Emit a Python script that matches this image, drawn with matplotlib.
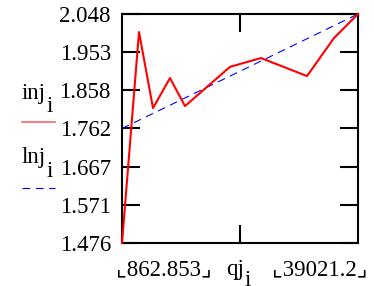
import numpy as np
import matplotlib
matplotlib.use("Agg")
import matplotlib.pyplot as plt

# datos
qj = [862.853, 3612, 5875, 8624, 11049, 18325, 23338, 30775, 35141, 39021.2]
inj = [1.476, 2.003, 1.813, 1.888, 1.818, 1.916, 1.938, 1.893, 1.988, 2.048]
lnj_x = [862.853, 39021.2]
lnj = [1.762, 2.048]
yticks = [1.476, 1.571, 1.667, 1.762, 1.858, 1.953, 2.048]
xlabels = ["\u231e862.853\u231f", "\u231e39021.2\u231f"]

fam = ["Liberation Serif", "DejaVu Sans"]
fs = 16.5

fig = plt.figure(figsize=(3.74, 2.86), dpi=100)
ax = fig.add_axes([122/374, 1-243/286, 236/374, 229/286])

ax.plot(qj, inj, color="red", lw=1.5, clip_on=False, zorder=3)
ax.plot(lnj_x, lnj, color="blue", lw=0.8, dashes=(7, 5), clip_on=False, zorder=2)

ax.set_xlim(qj[0], qj[-1])
ax.set_ylim(yticks[0], yticks[-1])
for s in ax.spines.values():
    s.set_linewidth(1.5)

ax.set_yticks(yticks)
ax.set_yticklabels([f"{v:.3f}" for v in yticks], family=fam, fontsize=fs)
ax.tick_params(axis="y", direction="in", length=13, width=1.5, right=True, pad=8)
ax.set_xticks([(qj[0] + qj[-1]) / 2])
ax.set_xticklabels([""])
ax.tick_params(axis="x", direction="in", length=13, width=1.5, top=True)

# etiquetas del eje x estilo Mathcad
def ftext(x, y, s, **kw):
    fig.text(x/374, 1-y/286, s, family=fam, fontsize=fs, va="baseline", **kw)

ftext(116, 275, xlabels[0], ha="left")
ftext(368, 275, xlabels[1], ha="right")
ftext(226, 275, "qj")
ftext(245, 286, "i")

# leyenda a la izquierda
ftext(22, 99, "inj")
ftext(47, 112, "i")
fig.lines.append(plt.Line2D([22/374, 55/374], [1-122/286, 1-122/286],
                            transform=fig.transFigure, color="#ff7070", lw=1.3))
ftext(22, 163, "lnj")
ftext(47, 177, "i")
fig.lines.append(plt.Line2D([22/374, 55/374], [1-188/286, 1-188/286],
                            transform=fig.transFigure, color="blue", lw=0.8,
                            dashes=(7, 5)))

fig.savefig("out.png", dpi=100)
